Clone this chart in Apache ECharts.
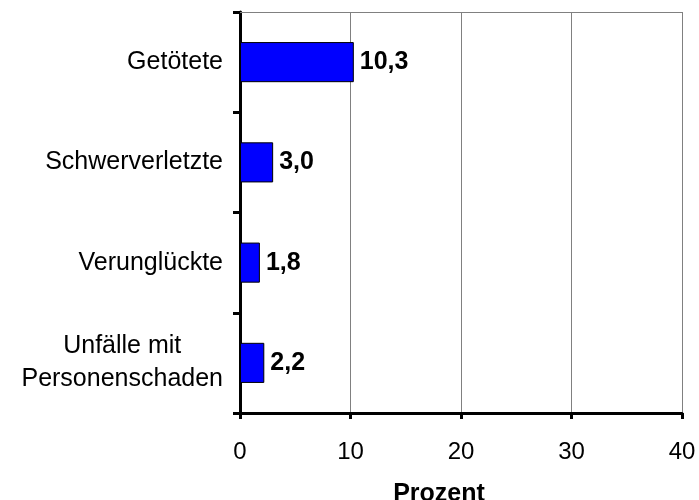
<!DOCTYPE html>
<html>
<head>
<meta charset="utf-8">
<script src="https://cdn.jsdelivr.net/npm/echarts@6/dist/echarts.min.js"></script>
<style>html,body{margin:0;padding:0;background:#fff;}#c{width:699px;height:500px;}</style>
</head>
<body>
<div id="c"></div>
<script>
const categories = ['Getötete', 'Schwerverletzte', 'Verunglückte', 'Unfälle mit\nPersonenschaden'];
const values = [10.3, 3.0, 1.8, 2.2];
const xTicks = [0, 10, 20, 30, 40];
const axisName = 'Prozent';

const chart = echarts.init(document.getElementById('c'), null, {renderer: 'canvas'});
const font = 'Arial, "Liberation Sans", sans-serif';
chart.setOption({
  animation: false,
  backgroundColor: '#fff',
  grid: {left: 240, right: 17, top: 12, bottom: 87, containLabel: false, outerBoundsMode: 'none'},
  xAxis: [{
    type: 'value', min: xTicks[0], max: xTicks[xTicks.length - 1], interval: 10,
    position: 'bottom',
    axisLine: {show: true, lineStyle: {color: '#000', width: 3}},
    axisTick: {show: true, length: 6, lineStyle: {color: '#000', width: 3}},
    splitLine: {show: true, lineStyle: {color: '#808080', width: 1}},
    axisLabel: {color: '#000', fontSize: 24, fontFamily: font, margin: 27},
    name: axisName, nameLocation: 'middle', nameGap: 69,
    nameTextStyle: {color: '#000', fontSize: 25, fontWeight: 'bold', fontFamily: font, padding: [0, 44, 0, 0]}
  }, {
    type: 'value', min: xTicks[0], max: xTicks[xTicks.length - 1], interval: 10,
    position: 'top',
    axisLine: {show: true, lineStyle: {color: '#808080', width: 1}},
    axisTick: {show: false}, axisLabel: {show: false}, splitLine: {show: false}
  }],
  yAxis: {
    type: 'category', data: categories, inverse: true,
    axisLine: {show: true, lineStyle: {color: '#000', width: 3}},
    axisTick: {show: true, length: 7, lineStyle: {color: '#000', width: 3}},
    axisLabel: {
      color: '#000', fontSize: 25, fontFamily: font, margin: 17,
      formatter: v => v.split('\n').map(l => '{c|' + l + '}').join('\n'),
      rich: {c: {align: 'center', color: '#000', fontSize: 25, fontFamily: font, lineHeight: 33}}
    },
    splitLine: {show: false}
  },
  series: [{
    type: 'bar', data: values, barWidth: '40%', xAxisIndex: 0,
    itemStyle: {color: '#0000ff', borderColor: '#000', borderWidth: 1},
    label: {show: true, position: 'right', distance: 6, color: '#000', fontSize: 25, fontWeight: 'bold', fontFamily: font,
      formatter: p => p.value.toFixed(1).replace('.', ',')}
  }]
});
</script>
</body>
</html>
